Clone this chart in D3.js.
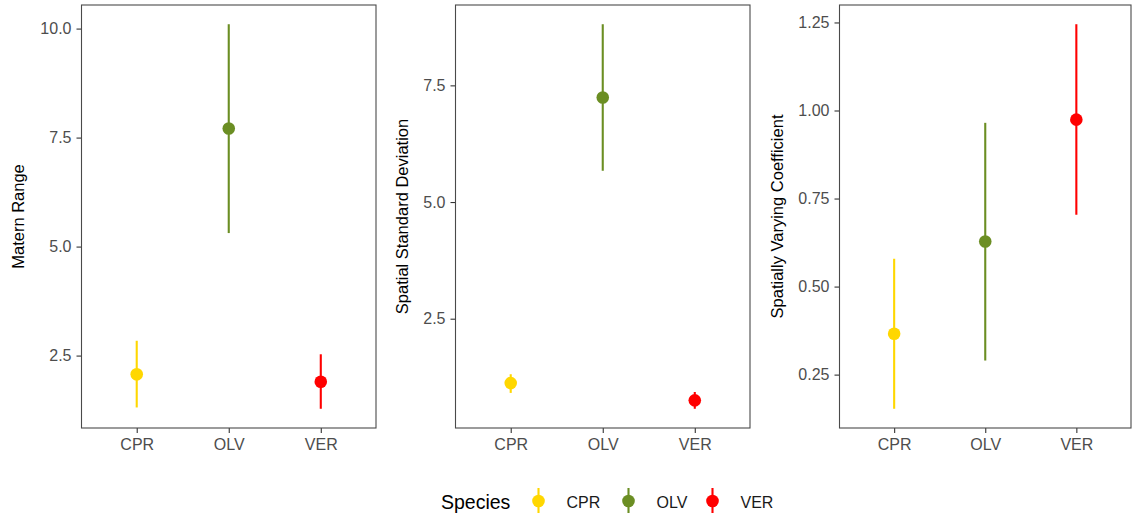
<!DOCTYPE html>
<html>
<head>
<meta charset="utf-8">
<script src="https://cdn.jsdelivr.net/npm/d3@7"></script>
<style>
  body { margin: 0; background: #fff; }
  svg { font-family: "Liberation Sans", Arial, sans-serif; }
</style>
</head>
<body>
<div id="viz"></div>
<script>
const width = 1133;
const height = 514;

// species and colours
const species = ['CPR', 'OLV', 'VER'];
const speciesColors = ['#FFD700', '#6B8E23', '#FF0000'];

// Matern range: estimate, lower, upper
const maternMean = [2.07, 7.71, 1.90];
const maternLow = [1.31, 5.31, 1.28];
const maternHigh = [2.84, 10.10, 2.53];
const maternTicks = [2.5, 5.0, 7.5, 10.0];

// spatial standard deviation
const sdMean = [1.12, 7.24, 0.75];
const sdLow = [0.91, 5.67, 0.57];
const sdHigh = [1.31, 8.81, 0.93];
const sdTicks = [2.5, 5.0, 7.5];

// spatially varying coefficient
const svcMean = [0.366, 0.628, 0.974];
const svcLow = [0.153, 0.290, 0.704];
const svcHigh = [0.579, 0.965, 1.245];
const svcTicks = [0.25, 0.50, 0.75, 1.00, 1.25];

const panels = [
    {title: 'Matern Range', mean: maternMean, low: maternLow, high: maternHigh, ticks: maternTicks, fmt: '.1f',
     left: 81.5, right: 376, titleX: 18},
    {title: 'Spatial Standard Deviation', mean: sdMean, low: sdLow, high: sdHigh, ticks: sdTicks, fmt: '.1f',
     left: 455.5, right: 750, titleX: 402},
    {title: 'Spatially Varying Coefficient', mean: svcMean, low: svcLow, high: svcHigh, ticks: svcTicks, fmt: '.2f',
     left: 839.5, right: 1131, titleX: 777}
];
const panelTop = 5, panelBottom = 428;

const color = d3.scaleOrdinal().domain(species).range(speciesColors);

const svg = d3.select('#viz')
    .append('svg')
    .attr('width', width)
    .attr('height', height);

panels.forEach(p => {
    const lo = d3.min(p.low), hi = d3.max(p.high);
    const pad = (hi - lo) * 0.05;
    const y = d3.scaleLinear().domain([lo - pad, hi + pad]).range([panelBottom, panelTop]);
    const x = d3.scalePoint().domain(species).range([p.left, p.right]).padding(0.6);

    const g = svg.append('g');

    // y axis
    const yAxis = g.append('g')
        .attr('transform', `translate(${p.left},0)`)
        .call(d3.axisLeft(y).tickValues(p.ticks).tickFormat(d3.format(p.fmt)).tickSize(5).tickPadding(5));
    yAxis.select('.domain').remove();
    yAxis.selectAll('line').attr('stroke', '#333').attr('stroke-width', 1.1);
    yAxis.selectAll('text').attr('fill', '#4D4D4D').style('font-size', '16px')
        .style('font-family', '"Liberation Sans", Arial, sans-serif');

    // x axis
    const xAxis = g.append('g')
        .attr('transform', `translate(0,${panelBottom})`)
        .call(d3.axisBottom(x).tickSize(5).tickPadding(6));
    xAxis.select('.domain').remove();
    xAxis.selectAll('line').attr('stroke', '#333').attr('stroke-width', 1.1);
    xAxis.selectAll('text').attr('fill', '#4D4D4D').style('font-size', '16px')
        .style('font-family', '"Liberation Sans", Arial, sans-serif');

    // panel border
    g.append('rect')
        .attr('x', p.left)
        .attr('y', panelTop)
        .attr('width', p.right - p.left)
        .attr('height', panelBottom - panelTop)
        .attr('fill', 'none')
        .attr('stroke', '#4a4a4a')
        .attr('stroke-width', 1.1);

    // error bars
    g.selectAll('line.ci')
        .data(species)
        .join('line')
        .attr('class', 'ci')
        .attr('x1', d => x(d))
        .attr('x2', d => x(d))
        .attr('y1', (d, i) => y(p.low[i]))
        .attr('y2', (d, i) => y(p.high[i]))
        .attr('stroke', d => color(d))
        .attr('stroke-width', 2.1);

    // points
    g.selectAll('circle.pt')
        .data(species)
        .join('circle')
        .attr('class', 'pt')
        .attr('cx', d => x(d))
        .attr('cy', (d, i) => y(p.mean[i]))
        .attr('r', 6.3)
        .attr('fill', d => color(d));

    // axis title
    g.append('text')
        .attr('transform', `translate(${p.titleX},${(panelTop + panelBottom) / 2}) rotate(-90)`)
        .attr('text-anchor', 'middle')
        .attr('dominant-baseline', 'central')
        .style('font-size', '16.5px')
        .attr('fill', '#000')
        .text(p.title);
});

// legend
const legend = svg.append('g');
legend.append('text')
    .attr('x', 441)
    .attr('y', 502)
    .attr('dominant-baseline', 'central')
    .style('font-size', '19.5px')
    .attr('fill', '#000')
    .text('Species');

const keyX = [538.5, 628.5, 712.5];
species.forEach((s, i) => {
    const k = legend.append('g').attr('transform', `translate(${keyX[i]},501)`);
    k.append('line')
        .attr('y1', -13).attr('y2', 12)
        .attr('stroke', color(s)).attr('stroke-width', 2.1);
    k.append('circle').attr('r', 6.3).attr('fill', color(s));
    k.append('text')
        .attr('x', 28)
        .attr('y', 1)
        .attr('dominant-baseline', 'central')
        .style('font-size', '16px')
        .attr('fill', '#1a1a1a')
        .text(s);
});
</script>
</body>
</html>
